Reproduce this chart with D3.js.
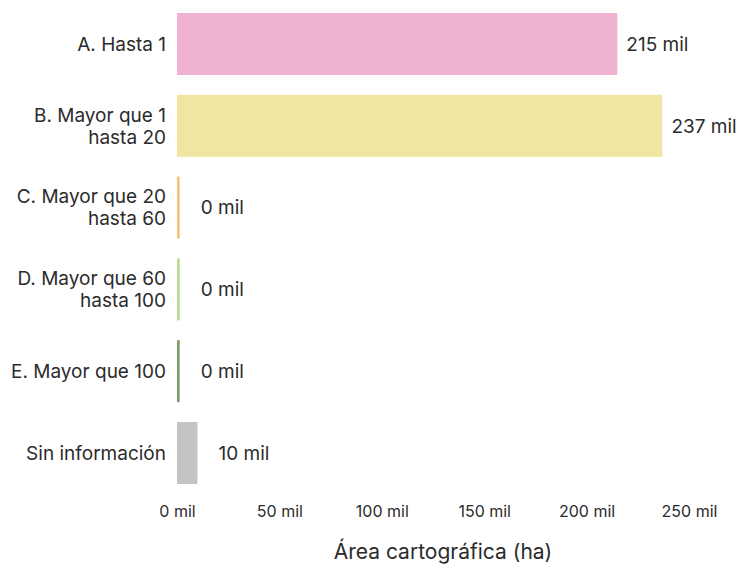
<!DOCTYPE html>
<html>
<head>
<meta charset="utf-8">
<script src="https://cdn.jsdelivr.net/npm/d3@7"></script>
<style>
  html, body { margin: 0; padding: 0; background: #ffffff; }
  svg { display: block; font-family: Inter, "Noto Sans", sans-serif; }
</style>
</head>
<body>
<svg id="chart" width="737" height="569"></svg>
<script>
// Área cartográfica por rango de superficie (miles de ha)
const categories = [
  ["A. Hasta 1"],
  ["B. Mayor que 1", "hasta 20"],
  ["C. Mayor que 20", "hasta 60"],
  ["D. Mayor que 60", "hasta 100"],
  ["E. Mayor que 100"],
  ["Sin información"]
];
const values = [215, 237, 0, 0, 0, 10];
const colors = ["#efb2d0", "#f2e5a2", "#f7c27e", "#bcd98f", "#7f9c6f", "#c4c4c4"];
const tickValues = [0, 50, 100, 150, 200, 250];
const axisTitle = "Área cartográfica (ha)";

const svg = d3.select("#chart");
const ids = d3.range(categories.length);

const x = d3.scaleLinear().domain([0, 250]).range([177, 689]);
const y = d3.scaleBand().domain(ids).range([13, 484]).paddingInner(0.242).paddingOuter(0);

const minBar = 2.7;

// barras
svg.append("g").selectAll("rect")
  .data(ids)
  .join("rect")
  .attr("x", x(0))
  .attr("y", i => y(i))
  .attr("width", i => Math.max(minBar, x(values[i]) - x(0)))
  .attr("height", y.bandwidth())
  .attr("fill", i => colors[i]);

// etiquetas de categoría
const catG = svg.append("g")
  .attr("font-size", 19)
  .attr("fill", "#2b2b2b")
  .attr("text-anchor", "end");
ids.forEach(i => {
  const lines = categories[i];
  const cy = y(i) + y.bandwidth() / 2;
  const lh = 22;
  const t = catG.append("text")
    .attr("y", cy - (lines.length - 1) * lh / 2);
  lines.forEach((ln, k) => {
    t.append("tspan")
      .attr("x", 166)
      .attr("dy", k === 0 ? "0.36em" : lh)
      .text(ln);
  });
});

// etiquetas de valor
svg.append("g")
  .attr("font-size", 19)
  .attr("fill", "#2b2b2b")
  .selectAll("text")
  .data(ids)
  .join("text")
  .attr("x", i => Math.max(x(0) + minBar, x(values[i])) + (values[i] < 50 ? 21 : 9))
  .attr("y", i => y(i) + y.bandwidth() / 2)
  .attr("dy", "0.36em")
  .text(i => `${Math.round(values[i])} mil`);

// eje x
const axis = d3.axisBottom(x)
  .tickValues(tickValues)
  .tickSize(0)
  .tickPadding(0)
  .tickFormat(d => `${d} mil`);
const ax = svg.append("g")
  .attr("transform", "translate(0,506)")
  .call(axis);
ax.select(".domain").remove();
ax.selectAll("text")
  .attr("font-size", 16)
  .attr("fill", "#2b2b2b")
  .attr("font-family", "Inter, 'Noto Sans', sans-serif");

svg.append("text")
  .attr("x", 443)
  .attr("y", 559)
  .attr("text-anchor", "middle")
  .attr("font-size", 21)
  .attr("fill", "#2b2b2b")
  .text(axisTitle);
</script>
</body>
</html>
